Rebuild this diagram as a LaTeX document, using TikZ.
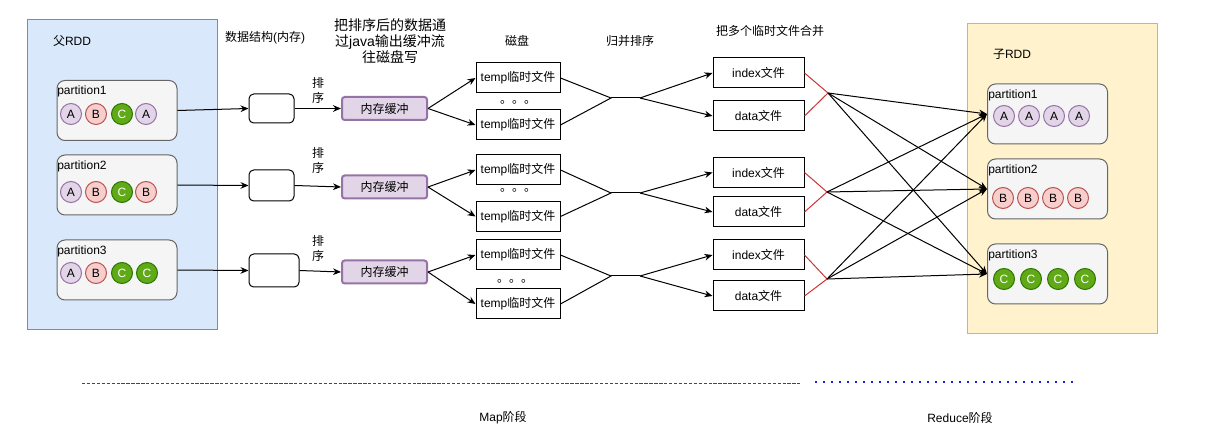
\documentclass[tikz,border=0pt]{standalone}
\usepackage{fontspec}
\setmainfont{Liberation Sans}
\newfontfamily\cjk{Noto Sans CJK SC}
\newcommand{\zh}[1]{{\cjk #1}}
\usetikzlibrary{arrows.meta}
\definecolor{lfill}{HTML}{DAE8FC}
\definecolor{lline}{HTML}{6C8EBF}
\definecolor{rfill}{HTML}{FFF2CC}
\definecolor{rline}{HTML}{D6B656}
\definecolor{pfill}{HTML}{F5F5F5}
\definecolor{pline}{HTML}{666666}
\definecolor{afill}{HTML}{E1D5E7}
\definecolor{aline}{HTML}{9673A6}
\definecolor{bfill}{HTML}{F8CECC}
\definecolor{bline}{HTML}{B85450}
\definecolor{cfill}{HTML}{60A917}
\definecolor{cline}{HTML}{2D7600}
\definecolor{redl}{HTML}{CC3333}
\definecolor{mapdash}{HTML}{8B2A2A}
\definecolor{reddot}{HTML}{2222DD}
\begin{document}
\begin{tikzpicture}[x=0.75pt,y=-0.75pt,
  every node/.style={font=\fontsize{9}{11}\selectfont},
  lbl/.style={inner sep=0},
  rddL/.style={draw=lline, fill=lfill, line width=0.75pt, minimum width=142.5pt, minimum height=232.5pt, inner sep=0},
  rddR/.style={draw=rline, fill=rfill, line width=0.75pt, minimum width=142.5pt, minimum height=232.5pt, inner sep=0},
  part/.style={draw=pline, fill=pfill, line width=0.75pt, rounded corners=6pt, minimum width=90pt, minimum height=45pt, inner sep=0},
  cA/.style={circle, draw=aline, fill=afill, line width=0.75pt, minimum size=15.75pt, inner sep=0},
  cB/.style={circle, draw=bline, fill=bfill, line width=0.75pt, minimum size=15.75pt, inner sep=0},
  cC/.style={circle, draw=cline, fill=cfill, line width=0.75pt, minimum size=15.75pt, inner sep=0, text=white},
  sbox/.style={draw, fill=white, line width=0.75pt, rounded corners=3.5pt, inner sep=0},
  buf/.style={draw=aline, fill=afill, line width=1.5pt, rounded corners=2pt, minimum width=63.75pt, minimum height=17.25pt, inner sep=0},
  file/.style={draw, fill=white, line width=0.75pt, minimum width=63pt, minimum height=22.5pt, inner sep=0},
  idx/.style={draw, fill=white, line width=0.75pt, minimum width=68.25pt, minimum height=22.5pt, inner sep=0},
  conn/.style={-{Stealth[length=6pt,width=5pt]}, line width=0.75pt},
  plainl/.style={line width=0.75pt},
  redln/.style={draw=redl, line width=0.75pt}]
\useasboundingbox (0,0) rectangle (1209,441);

% RDD containers
\node[rddL] (parent) at (122,175) {};
\node[rddR] (child) at (1062,179) {};
\node[lbl] (parentlbl) at (72,41) {\zh{父}RDD};
\node[lbl] (childlbl) at (1012,54) {\zh{子}RDD};

% Headers
\node[lbl] (h1) at (265,38) {\zh{数据结构}(\zh{内存})};
\node[lbl, align=center, font=\fontsize{10.5}{12}\selectfont] (h2) at (390,41) {\zh{把排序后的数据通}\\\zh{过}java\zh{输出缓冲流}\\\zh{往磁盘写}};
\node[lbl] (h3) at (517,41) {\zh{磁盘}};
\node[lbl] (h4) at (630,41) {\zh{归并排序}};
\node[lbl] (h5) at (770,31) {\zh{把多个临时文件合并}};

% Left partitions
\node[part] (lp1) at (117,110.5) {};
\node[part] (lp2) at (117,185) {};
\node[part] (lp3) at (117,270) {};
\node[lbl, anchor=west] (lp1t) at (57,91) {partition1};
\node[lbl, anchor=west] (lp2t) at (57,166) {partition2};
\node[lbl, anchor=west] (lp3t) at (57,251) {partition3};
\node[cA] (l1a) at (71,114) {A};
\node[cB] (l1b) at (96,114) {B};
\node[cC] (l1c) at (122,114) {C};
\node[cA] (l1d) at (146,114) {A};
\node[cA] (l2a) at (71,192) {A};
\node[cB] (l2b) at (96,192) {B};
\node[cC] (l2c) at (122,192) {C};
\node[cB] (l2d) at (146,192) {B};
\node[cA] (l3a) at (71,273) {A};
\node[cB] (l3b) at (96,273) {B};
\node[cC] (l3c) at (122,273) {C};
\node[cC] (l3d) at (147,273) {C};

% Right partitions
\node[part] (rp1) at (1047.5,114) {};
\node[part] (rp2) at (1047.5,189) {};
\node[part] (rp3) at (1047.5,274) {};
\node[lbl, anchor=west] (rp1t) at (988,95) {partition1};
\node[lbl, anchor=west] (rp2t) at (988,170) {partition2};
\node[lbl, anchor=west] (rp3t) at (988,255) {partition3};
\node[cA] (r1a) at (1004,116) {A};
\node[cA] (r1b) at (1029,116) {A};
\node[cA] (r1c) at (1054,116) {A};
\node[cA] (r1d) at (1079,116) {A};
\node[cB] (r2a) at (1003,198) {B};
\node[cB] (r2b) at (1028,198) {B};
\node[cB] (r2c) at (1053,198) {B};
\node[cB] (r2d) at (1078,198) {B};
\node[cC] (r3a) at (1004,279) {C};
\node[cC] (r3b) at (1031,279) {C};
\node[cC] (r3c) at (1058,279) {C};
\node[cC] (r3d) at (1085,279) {C};

% Small boxes
\node[sbox, minimum width=33.75pt, minimum height=21.75pt] (s1) at (271.5,108.5) {};
\node[sbox, minimum width=33.75pt, minimum height=23.25pt] (s2) at (271.5,185.5) {};
\node[sbox, minimum width=37.5pt, minimum height=24.75pt] (s3) at (274,270.5) {};

% sort labels
\node[lbl, align=center, font=\fontsize{9}{11.25}\selectfont] (o1) at (318,90.5) {\zh{排}\\\zh{序}};
\node[lbl, align=center, font=\fontsize{9}{11.25}\selectfont] (o2) at (318,160.5) {\zh{排}\\\zh{序}};
\node[lbl, align=center, font=\fontsize{9}{11.25}\selectfont] (o3) at (318,248.5) {\zh{排}\\\zh{序}};

% buffers
\node[buf] (b1) at (384.5,108.5) {\zh{内存缓冲}};
\node[buf] (b2) at (384.5,187) {\zh{内存缓冲}};
\node[buf] (b3) at (384.5,272) {\zh{内存缓冲}};

% temp files
\node[file] (t1) at (518,78) {temp\zh{临时文件}};
\node[file] (t2) at (518,125) {temp\zh{临时文件}};
\node[file] (t3) at (518,170) {temp\zh{临时文件}};
\node[file] (t4) at (518,216.5) {temp\zh{临时文件}};
\node[file] (t5) at (518,255) {temp\zh{临时文件}};
\node[file] (t6) at (518,304) {temp\zh{临时文件}};
\node[lbl] (d1) at (518,102) {\zh{。。。}};
\node[lbl] (d2) at (518,190) {\zh{。。。}};
\node[lbl] (d3) at (515,281) {\zh{。。。}};

% index/data
\node[idx] (i1) at (758.5,73) {index\zh{文件}};
\node[idx] (a1) at (758.5,116) {data\zh{文件}};
\node[idx] (i2) at (758.5,172.5) {index\zh{文件}};
\node[idx] (a2) at (758.5,212) {data\zh{文件}};
\node[idx] (i3) at (758.5,255) {index\zh{文件}};
\node[idx] (a3) at (758.5,296) {data\zh{文件}};

% junctions
\coordinate (j1) at (611,98);
\coordinate (k1) at (640,98);
\coordinate (j2) at (611,193);
\coordinate (k2) at (640,193);
\coordinate (j3) at (611,276);
\coordinate (k3) at (640,276);
\coordinate (q1) at (828,93);
\coordinate (q2) at (827,192);
\coordinate (q3) at (827,279);

% connectors: partition -> small box -> buffer
\draw[conn] (lp1.east) -- (s1.west);
\draw[conn] (lp2.east) -- (s2.west);
\draw[conn] (lp3.east) -- (s3.west);
\draw[conn] (s1.east) -- (b1.west);
\draw[conn] (s2.east) -- (b2.west);
\draw[conn] (s3.east) -- (b3.west);

% buffer -> temp files
\draw[conn] (b1.east) -- (t1.west);
\draw[conn] (b1.east) -- (t2.west);
\draw[conn] (b2.east) -- (t3.west);
\draw[conn] (b2.east) -- (t4.west);
\draw[conn] (b3.east) -- (t5.west);
\draw[conn] (b3.east) -- (t6.west);

% merge
\draw[plainl] (t1.east) -- (j1) -- (t2.east);
\draw[plainl] (j1) -- (k1);
\draw[conn] (k1) -- (i1.west);
\draw[conn] (k1) -- (a1.west);
\draw[plainl] (t3.east) -- (j2) -- (t4.east);
\draw[plainl] (j2) -- (k2);
\draw[conn] (k2) -- (i2.west);
\draw[conn] (k2) -- (a2.west);
\draw[plainl] (t5.east) -- (j3) -- (t6.east);
\draw[plainl] (j3) -- (k3);
\draw[conn] (k3) -- (i3.west);
\draw[conn] (k3) -- (a3.west);

% red
\draw[redln] (i1.east) -- (q1) -- (a1.east);
\draw[redln] (i2.east) -- (q2) -- (a2.east);
\draw[redln] (i3.east) -- (q3) -- (a3.east);

% shuffle
\foreach \q in {q1,q2,q3}{
  \draw[conn] (\q) -- (rp1.west);
  \draw[conn] (\q) -- (rp2.west);
  \draw[conn] (\q) -- (rp3.west);
}

% stage lines
\coordinate (ms) at (82,383);
\coordinate (me) at (800,383);
\coordinate (rs) at (815,382);
\coordinate (re) at (1075,382);
\draw[mapdash, line width=0.75pt, dash pattern=on 2.5pt off 1.2pt] (ms) -- (me);
\draw[reddot, line width=1.5pt, dash pattern=on 1.5pt off 4.5pt] (rs) -- (re);
\node[lbl] (mapl) at (503,418) {Map\zh{阶段}};
\node[lbl] (redlb) at (960,418) {Reduce\zh{阶段}};
\end{tikzpicture}
\end{document}
